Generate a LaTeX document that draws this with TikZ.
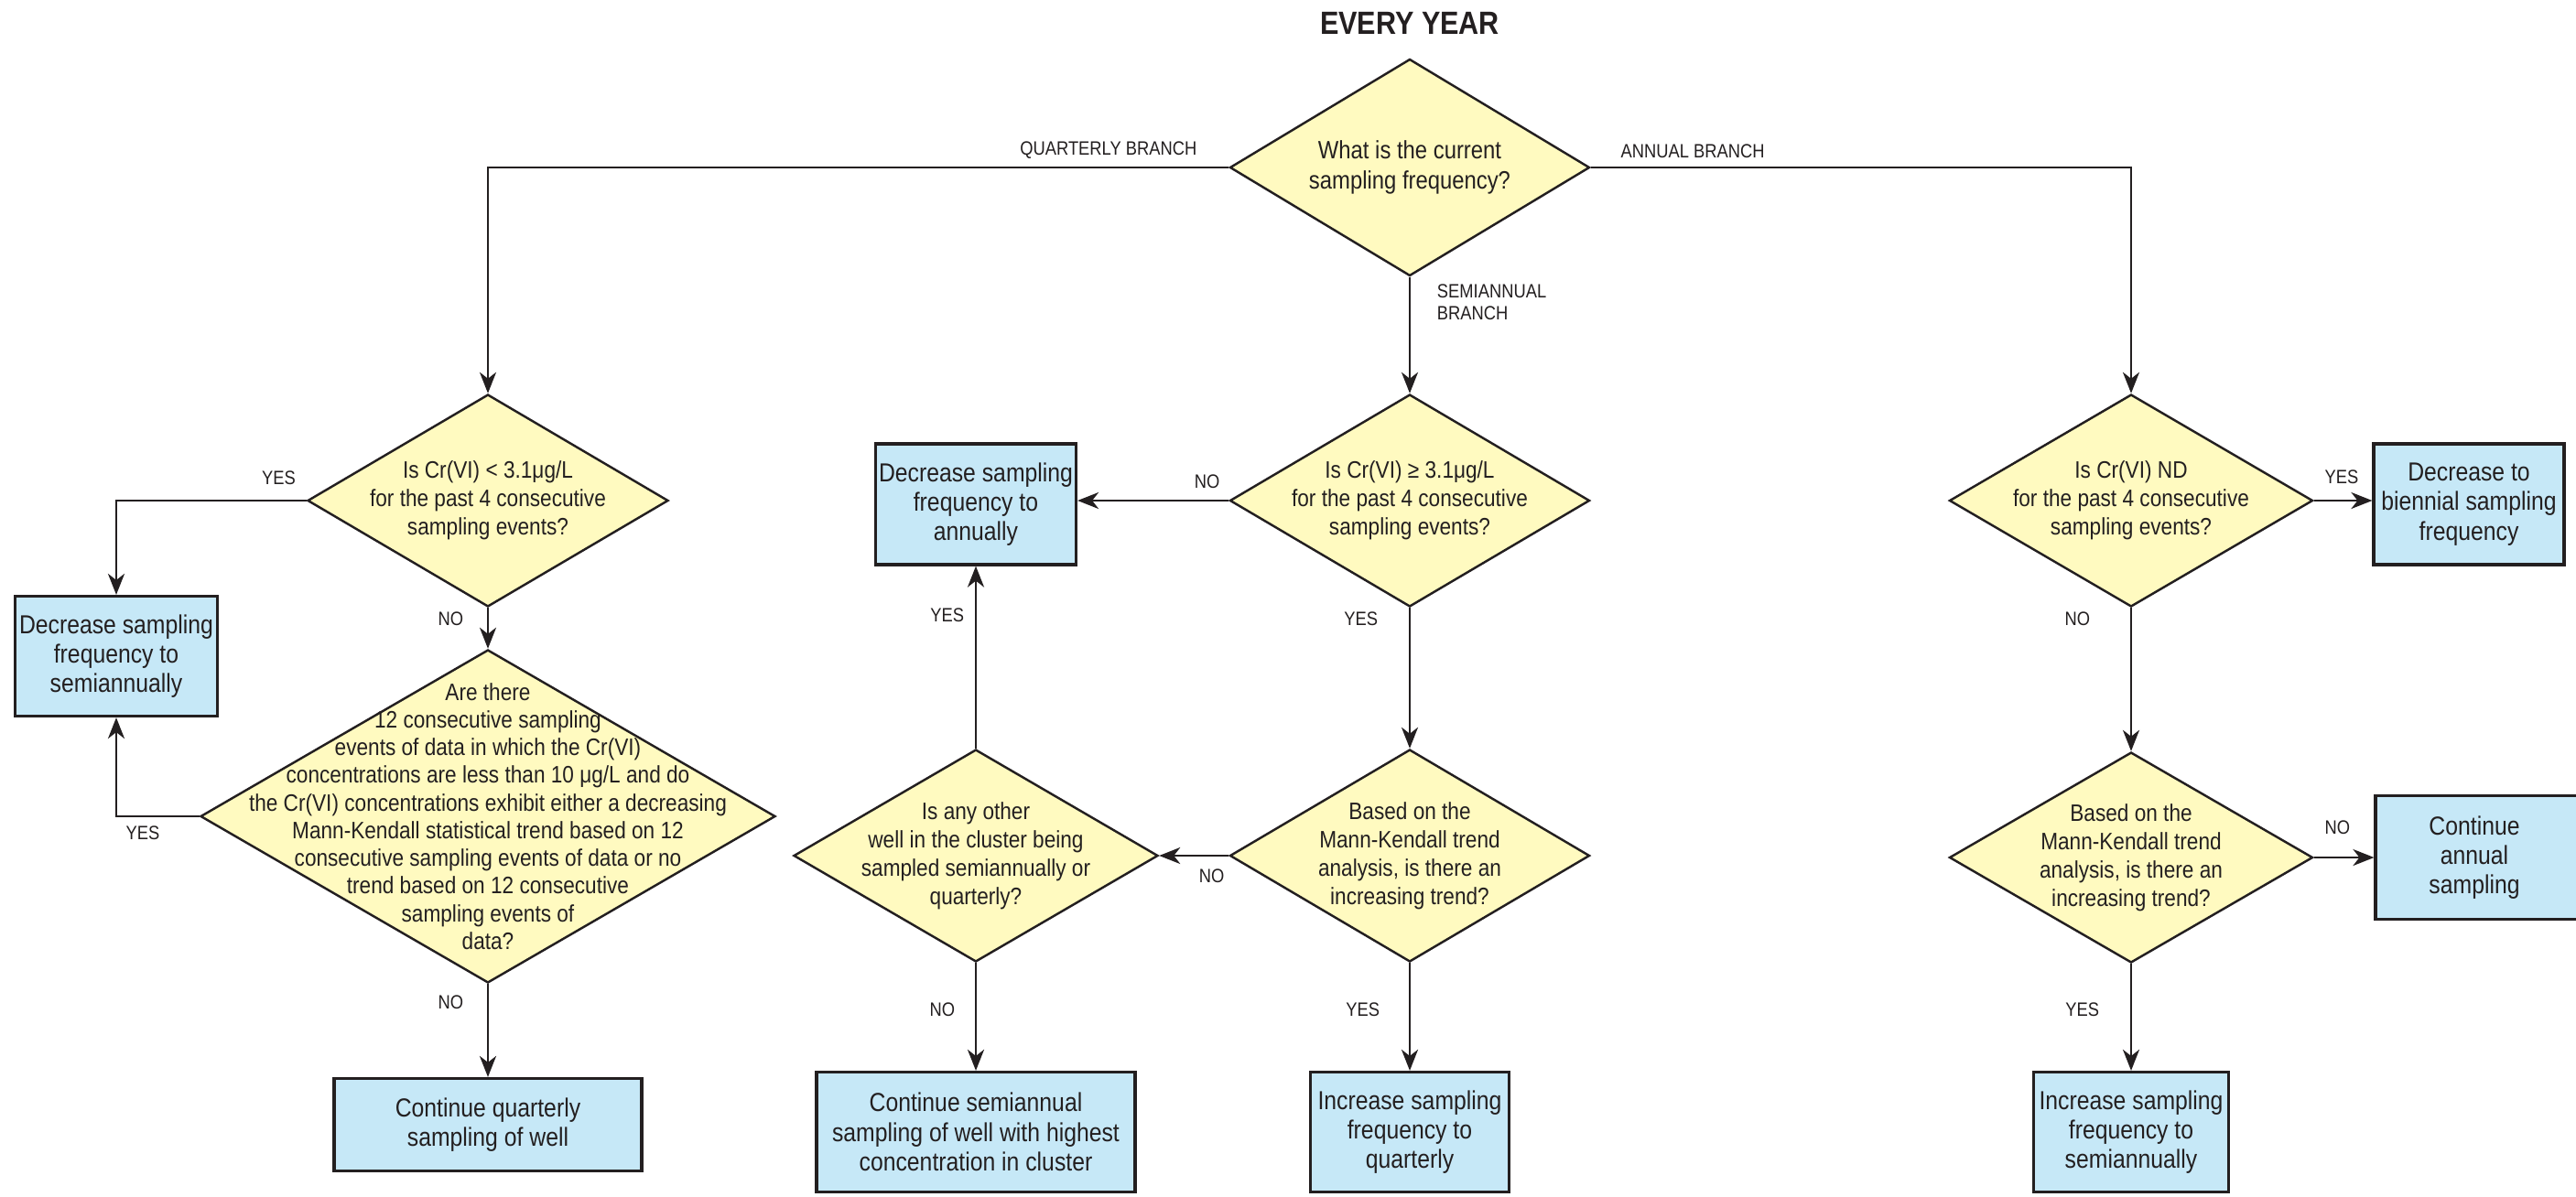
\documentclass[tikz,border=0pt]{standalone}
\usepackage{fontspec}
\setmainfont{Liberation Sans}[FakeStretch=0.87]
\usetikzlibrary{shapes.geometric,arrows.meta}

\definecolor{ink}{HTML}{231F20}
\definecolor{qyellow}{HTML}{FFFAC0}
\definecolor{ablue}{HTML}{C6E8F7}

\tikzset{
	query/.style={diamond, draw=ink, fill=qyellow, line width=0.7pt, inner sep=0pt},
	qtext/.style={text=ink, align=center, font=\fontsize{7.4}{8.8}\selectfont},
	action/.style={rectangle, draw=ink, fill=ablue, line width=0.9pt, inner sep=0pt, align=center, text=ink, font=\fontsize{8.1}{9.2}\selectfont},
	flow/.style={draw=ink, line width=0.8pt, -{Stealth[length=2.3mm,width=1.8mm,inset=0.7mm]}},
	lbl/.style={text=ink, font=\fontsize{6}{7}\selectfont, inner sep=1pt},
}

\begin{document}
\begin{tikzpicture}
	\useasboundingbox (0,0) rectangle (28.14,-13.07);
	\node[text=ink, font=\bfseries\fontsize{10}{12}\selectfont] (title) at (15.40,-0.25) {EVERY YEAR};
	\node[query, minimum width=3.93cm, minimum height=2.37cm, label={[qtext, font=\fontsize{7.8}{9.6}\selectfont]center:{What is the current\\sampling frequency?}}] (d0) at (15.40,-1.83) {};
	
	% quarterly branch
	\node[query, minimum width=3.94cm, minimum height=2.32cm, label={[qtext]center:{Is Cr(VI) < 3.1μg/L\\for the past 4 consecutive\\sampling events?}}] (q1) at (5.33,-5.47) {};
	\node[query, minimum width=6.28cm, minimum height=3.64cm, label={[qtext, font=\fontsize{7.4}{8.6}\selectfont]center:{Are there\\12 consecutive sampling\\events of data in which the Cr(VI)\\concentrations are less than 10 μg/L and do\\the Cr(VI) concentrations exhibit either a decreasing\\Mann-Kendall statistical trend based on 12\\consecutive sampling events of data or no\\trend based on 12 consecutive\\sampling events of\\data?}}] (q2) at (5.33,-8.92) {};
	\node[action, minimum width=2.21cm, minimum height=1.31cm] (ql) at (1.27,-7.17) {Decrease sampling\\frequency to\\semiannually};
	\node[action, minimum width=3.36cm, minimum height=1.01cm] (qb) at (5.33,-12.29) {Continue quarterly\\sampling of well};
	
	% semiannual branch
	\node[query, minimum width=3.93cm, minimum height=2.32cm, label={[qtext]center:{Is Cr(VI) ≥ 3.1μg/L\\for the past 4 consecutive\\sampling events?}}] (s1) at (15.40,-5.47) {};
	\node[query, minimum width=3.93cm, minimum height=2.32cm, label={[qtext]center:{Based on the\\Mann-Kendall trend\\analysis, is there an\\increasing trend?}}] (s2) at (15.40,-9.35) {};
	\node[query, minimum width=3.98cm, minimum height=2.32cm, label={[qtext]center:{Is any other\\well in the cluster being\\sampled semiannually or\\quarterly?}}] (s3) at (10.66,-9.35) {};
	\node[action, minimum width=2.19cm, minimum height=1.32cm] (sa) at (10.66,-5.51) {Decrease sampling\\frequency to\\annually};
	\node[action, minimum width=3.48cm, minimum height=1.31cm] (sc) at (10.66,-12.37) {Continue semiannual\\sampling of well with highest\\concentration in cluster};
	\node[action, minimum width=2.17cm, minimum height=1.31cm] (sq) at (15.40,-12.37) {Increase sampling\\frequency to\\quarterly};
	
	% annual branch
	\node[query, minimum width=3.97cm, minimum height=2.32cm, label={[qtext]center:{Is Cr(VI) ND\\for the past 4 consecutive\\sampling events?}}] (a1) at (23.28,-5.47) {};
	\node[query, minimum width=3.97cm, minimum height=2.30cm, label={[qtext]center:{Based on the\\Mann-Kendall trend\\analysis, is there an\\increasing trend?}}] (a2) at (23.28,-9.37) {};
	\node[action, minimum width=2.08cm, minimum height=1.32cm] (ab) at (26.97,-5.51) {Decrease to\\biennial sampling\\frequency};
	\node[action, minimum width=2.50cm, minimum height=1.35cm, label={[action, draw=none, fill=none, xshift=-0.17cm]center:{Continue\\annual\\sampling}}] (ac) at (27.20,-9.37) {};
	\node[action, minimum width=2.13cm, minimum height=1.31cm] (aq) at (23.28,-12.37) {Increase sampling\\frequency to\\semiannually};
	
	\draw[flow] (d0.west) -| node[lbl, pos=0, anchor=south east, xshift=-0.3cm, yshift=0.05cm] {QUARTERLY BRANCH} (q1.north);
	\draw[flow] (d0.east) -| node[lbl, pos=0, anchor=south west, xshift=0.28cm, yshift=0.05cm] {ANNUAL BRANCH} (a1.north);
	\draw[flow] (d0.south) -- node[lbl, pos=0, anchor=north west, align=left, xshift=0.25cm, yshift=-0.03cm] {SEMIANNUAL\\BRANCH} (s1.north);
	
	\draw[flow] (q1.west) -| node[lbl, pos=0, anchor=south east, xshift=-0.07cm, yshift=0.12cm] {YES} (ql.north);
	\draw[flow] (q1.south) -- node[lbl, pos=0, anchor=north east, xshift=-0.22cm] {NO} (q2.north);
	\draw[flow] (q2.west) -| node[lbl, pos=0.34, below, yshift=-0.06cm] {YES} (ql.south);
	\draw[flow] (q2.south) -- node[lbl, pos=0, anchor=north east, xshift=-0.22cm, yshift=-0.08cm] {NO} (qb.north);
	
	\draw[flow] (s1.west) -- node[lbl, pos=0, anchor=south east, xshift=-0.05cm, yshift=0.08cm] {NO} (s1.west -| sa.east);
	\draw[flow] (s1.south) -- node[lbl, pos=0, anchor=north east, xshift=-0.3cm] {YES} (s2.north);
	\draw[flow] (s2.west) -- node[lbl, pos=0, anchor=north east, yshift=-0.1cm] {NO} (s3.east);
	\draw[flow] (s3.north) -- node[lbl, pos=0.73, left, xshift=-0.08cm] {YES} (sa.south);
	\draw[flow] (s3.south) -- node[lbl, pos=0.43, left, xshift=-0.18cm] {NO} (sc.north);
	\draw[flow] (s2.south) -- node[lbl, pos=0.43, left, xshift=-0.28cm] {YES} (sq.north);
	
	\draw[flow] (a1.east) -- node[lbl, pos=0, anchor=south west, xshift=0.07cm, yshift=0.13cm] {YES} (a1.east -| ab.west);
	\draw[flow] (a1.south) -- node[lbl, pos=0, anchor=north east, xshift=-0.4cm] {NO} (a2.north);
	\draw[flow] (a2.east) -- node[lbl, pos=0, anchor=south west, xshift=0.07cm, yshift=0.2cm] {NO} (a2.east -| ac.west);
	\draw[flow] (a2.south) -- node[lbl, pos=0.43, left, xshift=-0.3cm] {YES} (aq.north);
\end{tikzpicture}
\end{document}
